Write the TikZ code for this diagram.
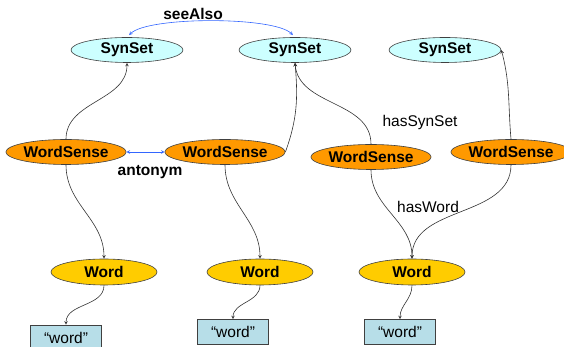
\documentclass[tikz,border=0pt]{standalone}
\usepackage{fontspec}
\setmainfont{Liberation Sans}
\usetikzlibrary{shapes.geometric}
\definecolor{synfill}{HTML}{CCFFFF}
\definecolor{sensefill}{HTML}{FF9900}
\definecolor{wordfill}{HTML}{FFCC00}
\definecolor{boxfill}{HTML}{B7DEE8}
\definecolor{linkblue}{HTML}{3366FF}
\begin{document}
\begin{tikzpicture}[>=stealth, x=1pt, y=1pt, line width=0.6pt,
		font=\fontsize{15.5}{18}\selectfont,
		synset/.style={ellipse, draw=black!75, fill=synfill, minimum width=112pt, minimum height=25pt, inner sep=0pt, font=\fontsize{15.5}{18}\selectfont\bfseries},
		sense/.style={ellipse, draw=black!75, fill=sensefill, minimum width=114pt, minimum height=25pt, inner sep=0pt, font=\fontsize{15.5}{18}\selectfont\bfseries},
		word/.style={ellipse, draw=black!75, fill=wordfill, minimum width=106pt, minimum height=26pt, inner sep=0pt, font=\fontsize{15.5}{18}\selectfont\bfseries},
		lit/.style={rectangle, draw=black!75, fill=boxfill, minimum width=71pt, minimum height=25pt, inner sep=0pt},
		rel/.style={->, black!80, line width=0.6pt},
		blue link/.style={<->, linkblue, line width=0.6pt}]
		\useasboundingbox (0,0) rectangle (564,347);
		% synsets
		\node[synset] (syn1) at (127,297) {SynSet};
		\node[synset] (syn2) at (295,297) {SynSet};
		\node[synset] (syn3) at (445,297) {SynSet};
		% word senses
		\node[sense] (ws1) at (66,195) {WordSense};
		\node[sense] (ws2) at (225,195) {WordSense};
		\node[sense] (ws3) at (371,190) {WordSense};
		\node[sense] (ws4) at (511,195) {WordSense};
		% words
		\node[word] (w1) at (104,75) {Word};
		\node[word] (w2) at (260,75) {Word};
		\node[word] (w3) at (412,75) {Word};
		% literals
		\node[lit] (lit1) at (66,9.5) {“word”};
		\node[lit] (lit2) at (233,15) {“word”};
		\node[lit] (lit3) at (400,15) {“word”};
		% relations
		\draw[blue link, shorten <=3pt, shorten >=3pt] (syn1.north) to[out=45,in=135,looseness=0.45] (syn2.north);
		\node[font=\fontsize{15.5}{18}\selectfont\bfseries] (seealso) at (193,333) {seeAlso};
		\draw[blue link] (ws1) -- (ws2);
		\node[font=\fontsize{15.5}{18}\selectfont\bfseries] (antonym) at (150,175) {antonym};
		\draw[rel] (ws1.north) to[out=90,in=-90] (syn1.south);
		\draw[rel] (ws2.east) to[out=70,in=-85] (syn2.south);
		\draw[rel] (ws3.north) to[out=90,in=-85] (syn2.south);
		\draw[rel] (ws4.north) to[out=95,in=-75] (syn3.east);
		\node (hassynset) at (420,225) {hasSynSet};
		\draw[rel] (ws1.south) to[out=-90,in=90] (w1.north);
		\draw[rel] (ws2.south) to[out=-90,in=90] (w2.north);
		\draw[rel] (ws3.south) to[out=-90,in=90] (w3.north);
		\draw[rel] (ws4.south) to[out=-90,in=90] (w3.north);
		\node (hasword) at (428,140) {hasWord};
		\draw[rel] (w1.south) to[out=-90,in=90] (lit1.north);
		\draw[rel] (w2.south) to[out=-90,in=90] (lit2.north);
		\draw[rel] (w3.south) to[out=-90,in=90] (lit3.north);
\end{tikzpicture}
\end{document}
